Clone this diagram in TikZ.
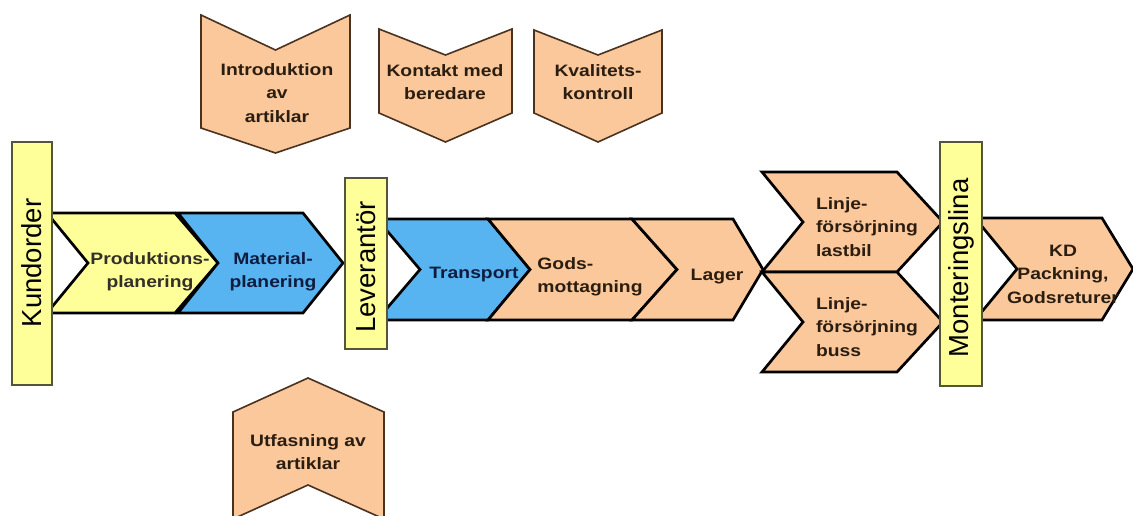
\documentclass[tikz,border=0pt]{standalone}
\usepackage{fontspec}
\setmainfont{Liberation Sans}
\newfontfamily\chevfont[FakeStretch=1.17]{Liberation Sans}
\definecolor{peach}{HTML}{FAC89B}
\definecolor{skyblue}{HTML}{58B4F0}
\definecolor{paleyellow}{HTML}{FFFF99}
\definecolor{barline}{HTML}{55553A}
\definecolor{brownline}{HTML}{4A3220}
\definecolor{inkbrown}{HTML}{2B1D10}
\definecolor{inknavy}{HTML}{0E1C40}
\begin{document}
\begin{tikzpicture}[x=1pt,y=-1pt,
    chev/.style={draw=black, line width=2.7pt, line join=miter},
    flag/.style={draw=brownline, line width=1.6pt, fill=peach, line join=miter},
    bar/.style={draw=barline, line width=1.3pt, fill=paleyellow},
    lbl/.style={font=\chevfont\bfseries\fontsize{16.5}{23.5}\selectfont, text=inkbrown, align=center, inner sep=0pt},
    barlbl/.style={font=\fontsize{27.5}{29}\selectfont, rotate=90, inner sep=0pt}]
  \useasboundingbox (0,0) rectangle (1133,515);
  \clip (0,0) rectangle (1133,515);
  % chevrons along the main flow
  \foreach \l/\r/\t/\b/\dn/\dt/\col in {47/175/213/313/41/43/paleyellow, 178/303/213/313/40/40/skyblue,
      377/488/219/320/43/42/skyblue, 488/632/219/320/42/45/peach, 632/733/219/320/45/30/peach,
      762/897/172/272/41/46/peach, 762/897/272/372/41/46/peach, 975/1102/218/320/42/31/peach}
    \draw[chev, fill=\col] (\l,\t) -- (\r,\t) -- (\r+\dt,{(\t+\b)/2}) -- (\r,\b)
      -- (\l,\b) -- (\l+\dn,{(\t+\b)/2}) -- cycle;
  % flags pointing down
  \foreach \l/\r/\t/\n/\s/\p in {201/350/15/50/128/153, 379/512/29/55/113/142, 534/662/30/55/113/142}
    \draw[flag] (\l,\t) -- ({(\l+\r)/2},\n) -- (\r,\t) -- (\r,\s) -- ({(\l+\r)/2},\p) -- (\l,\s) -- cycle;
  % flag pointing up
  \draw[flag] (233,412) -- (308,378) -- (384,412) -- (384,519) -- (308,485) -- (233,519) -- cycle;
  % bars
  \draw[bar] (12,142) rectangle (52,385);
  \draw[bar] (345,178) rectangle (387,349);
  \draw[bar] (940,142) rectangle (982,386);
  \node[barlbl] (kund) at (32,263) {Kundorder};
  \node[barlbl] (lev) at (366,267) {Leverantör};
  \node[barlbl] (mont) at (961,268) {Monteringslina};
  % texts
  \node[lbl, text=black!85!olive] (prod) at (150,272) {Produktions-\\planering};
  \node[lbl, text=inknavy] (mat) at (273,272) {Material-\\planering};
  \node[lbl, text=inknavy] (trans) at (474,275) {Transport};
  \node[lbl, align=left] (gods) at (590,277) {Gods-\\mottagning};
  \node[lbl] (lager) at (717,277) {Lager};
  \node[lbl, align=left] (lastbil) at (867,227) {Linje-\\försörjning\\lastbil};
  \node[lbl, align=left] (buss) at (867,327) {Linje-\\försörjning\\buss};
  \node[lbl] (kd) at (1063,274) {KD\\Packning,\\Godsreturer};
  \node[lbl] (intro) at (277,93) {Introduktion\\av\\artiklar};
  \node[lbl] (kontakt) at (445,82) {Kontakt med\\beredare};
  \node[lbl] (kval) at (598,82) {Kvalitets-\\kontroll};
  \node[lbl] (utfas) at (308,452) {Utfasning av\\artiklar};
\end{tikzpicture}
\end{document}
